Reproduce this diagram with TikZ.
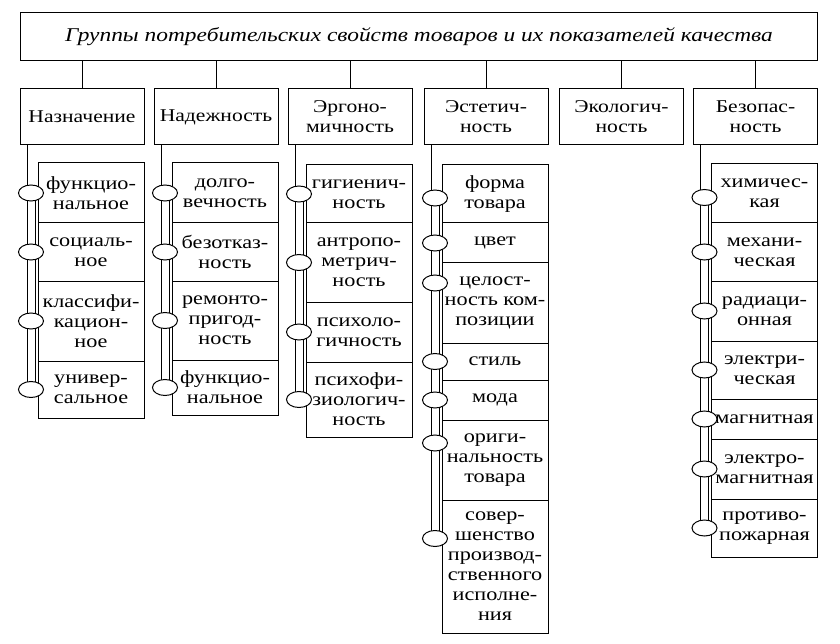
\documentclass[tikz,border=0pt]{standalone}
\usepackage{fontspec}
\setmainfont{Liberation Serif}[FakeStretch=1.2]
\usetikzlibrary{positioning,shapes.geometric,calc}

\begin{document}
\begin{tikzpicture}[x=1pt,y=1pt,yscale=-1,line width=1pt,
  title/.style={draw, minimum width=797, minimum height=48, font=\fontsize{19.5}{24}\selectfont\itshape},
  group/.style={draw, minimum width=124, minimum height=56, align=center, font=\fontsize{18}{20}\selectfont},
  item/.style={draw, fill=white, minimum width=106, minimum height=#1, align=center, inner sep=1pt, outer sep=0pt, font=\fontsize{18.5}{20}\selectfont},
  ring/.style={draw, fill=white, ellipse, minimum width=25, minimum height=16, inner sep=0pt}]
        \useasboundingbox (0,0) rectangle (840,644);

        % Title
        \node[title] (groups) at (419,37) {Группы потребительских свойств товаров и их показателей качества};

        % Group boxes
        \node[group] (nazn) at (82,117) {Назначение};
        \node[group] (nadezh) at (216,117) {Надежность};
        \node[group] (ergon) at (350,117) {Эргоно-\\мичность};
        \node[group] (estet) at (486,117) {Эстетич-\\ность};
        \node[group] (ekol) at (621.5,117) {Экологич-\\ность};
        \node[group] (bezop) at (755.5,117) {Безопас-\\ность};

        \foreach \g in {nazn,nadezh,ergon,estet,ekol,bezop}
          \draw (groups.south -| \g.north) -- (\g.north);

        % Назначение
        \node[item=60, anchor=north west] (naz1) at (38,163) {функцио-\\нальное};
        \node[item=58, below=0pt of naz1] (naz2) {социаль-\\ное};
        \node[item=80, below=0pt of naz2] (naz3) {классифи-\\кацион-\\ное};
        \node[item=57, below=0pt of naz3] (naz4) {универ-\\сальное};

        % Надежность
        \node[item=60, anchor=north west] (nad1) at (172,163) {долго-\\вечность};
        \node[item=58, below=0pt of nad1] (nad2) {безотказ-\\ность};
        \node[item=79, below=0pt of nad2] (nad3) {ремонто-\\пригод-\\ность};
        \node[item=55, below=0pt of nad3] (nad4) {функцио-\\нальное};

        % Эргономичность
        \node[item=58, anchor=north west] (erg1) at (306,165) {гигиенич-\\ность};
        \node[item=79, below=0pt of erg1] (erg2) {антропо-\\метрич-\\ность};
        \node[item=60, below=0pt of erg2] (erg3) {психоло-\\гичность};
        \node[item=75, below=0pt of erg3] (erg4) {психофи-\\зиологич-\\ность};

        % Эстетичность
        \node[item=58, anchor=north west] (est1) at (442,165) {форма\\товара};
        \node[item=40, below=0pt of est1] (est2) {цвет};
        \node[item=80, below=0pt of est2] (est3) {целост-\\ность ком-\\позиции};
        \node[item=37, below=0pt of est3] (est4) {стиль};
        \node[item=40, below=0pt of est4] (est5) {мода};
        \node[item=80, below=0pt of est5] (est6) {ориги-\\нальность\\товара};
        \node[item=133, below=0pt of est6] (est7) {совер-\\шенство\\производ-\\ственного\\исполне-\\ния};

        % Безопасность
        \node[item=59, anchor=north west] (bez1) at (711.5,164) {химичес-\\кая};
        \node[item=58, below=0pt of bez1] (bez2) {механи-\\ческая};
        \node[item=60, below=0pt of bez2] (bez3) {радиаци-\\онная};
        \node[item=58, below=0pt of bez3] (bez4) {электри-\\ческая};
        \node[item=40, below=0pt of bez4] (bez5) {магнитная};
        \node[item=60, below=0pt of bez5] (bez6) {электро-\\магнитная};
        \node[item=58, below=0pt of bez6] (bez7) {противо-\\пожарная};

        % Rails
        \draw ($(naz1.west |- nazn.south)+(-11,0)$) -- ($(naz4.west)+(-11,0)$);
        \draw ($(naz1.west)+(-3,0)$) -- ($(naz4.west)+(-3,0)$);
        \draw ($(nad1.west |- nadezh.south)+(-11,0)$) -- ($(nad4.west)+(-11,0)$);
        \draw ($(nad1.west)+(-3,0)$) -- ($(nad4.west)+(-3,0)$);
        \draw ($(erg1.west |- ergon.south)+(-11,0)$) -- ($(erg4.west)+(-11,0)$);
        \draw ($(erg1.west)+(-3,0)$) -- ($(erg4.west)+(-3,0)$);
        \draw ($(est1.west |- estet.south)+(-11,0)$) -- ($(est7.west)+(-11,-28)$);
        \draw ($(est1.west)+(-3,4)$) -- ($(est7.west)+(-3,-28)$);
        \draw ($(bez1.west |- bezop.south)+(-11,0)$) -- ($(bez7.west)+(-11,0)$);
        \draw ($(bez1.west)+(-3,4)$) -- ($(bez7.west)+(-3,0)$);

        % Rings
        \foreach \i in {naz1,naz2,naz3,naz4,nad1,nad2,nad3,nad4,erg1,erg2,erg3,erg4,est2,est4,est5,bez2,bez3,bez4,bez5,bez6,bez7}
          \node[ring] (r\i) at ($(\i.west)+(-7,0)$) {};
        \node[ring] (rest1) at ($(est1.west)+(-7,4)$) {};
        \node[ring] (rest3) at ($(est3.west)+(-7,-20)$) {};
        \node[ring] (rest6) at ($(est6.west)+(-7,-17)$) {};
        \node[ring] (rest7) at ($(est7.west)+(-7,-28)$) {};
        \node[ring] (rbez1) at ($(bez1.west)+(-7,4)$) {};

\end{tikzpicture}
\end{document}
